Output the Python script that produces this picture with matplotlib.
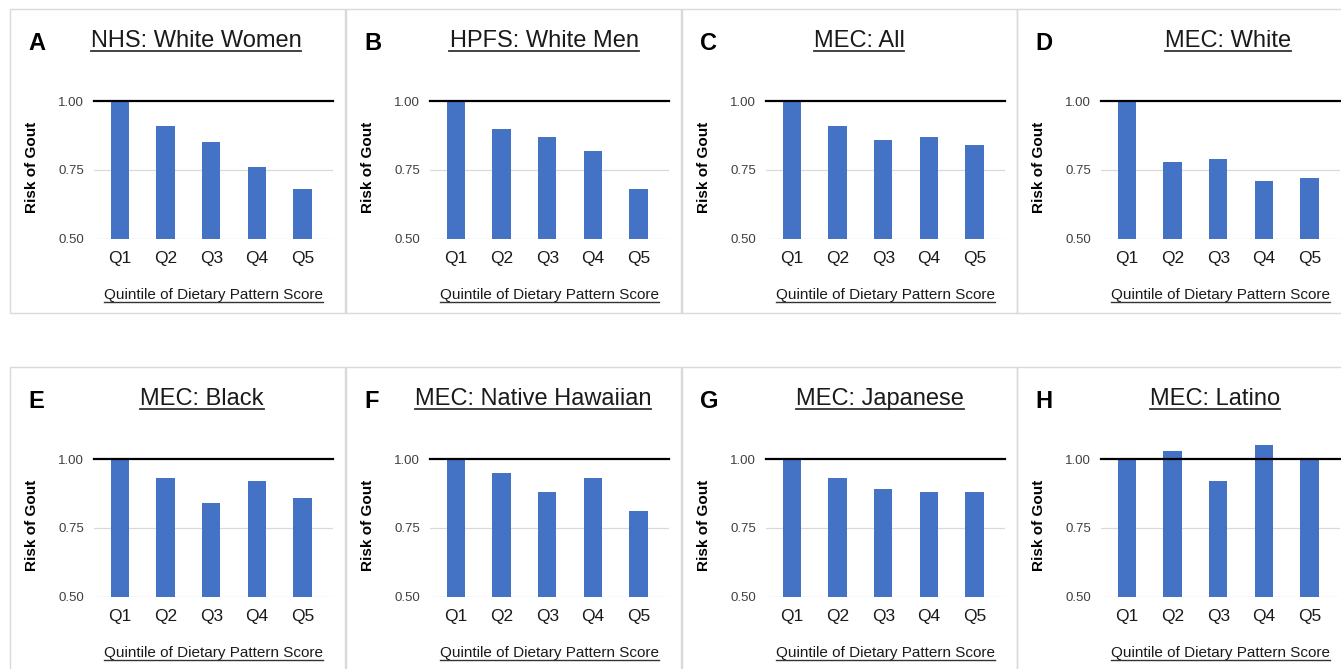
import matplotlib
matplotlib.use('Agg')
import matplotlib.pyplot as plt
from matplotlib.patches import Rectangle
from matplotlib.lines import Line2D
import numpy as np

plt.rcParams['font.family'] = ['Liberation Sans', 'DejaVu Sans']

# Data
quintiles = ['Q1', 'Q2', 'Q3', 'Q4', 'Q5']
panel_letters = ['A', 'B', 'C', 'D', 'E', 'F', 'G', 'H']
panel_titles = ['NHS: White Women', 'HPFS: White Men', 'MEC: All', 'MEC: White',
                'MEC: Black', 'MEC: Native Hawaiian', 'MEC: Japanese', 'MEC: Latino']
risk_a = [1.00, 0.91, 0.85, 0.76, 0.68]
risk_b = [1.00, 0.90, 0.87, 0.82, 0.68]
risk_c = [1.00, 0.91, 0.86, 0.87, 0.84]
risk_d = [1.00, 0.78, 0.79, 0.71, 0.72]
risk_e = [1.00, 0.93, 0.84, 0.92, 0.86]
risk_f = [1.00, 0.95, 0.88, 0.93, 0.81]
risk_g = [1.00, 0.93, 0.89, 0.88, 0.88]
risk_h = [1.00, 1.03, 0.92, 1.05, 1.00]
all_risks = [risk_a, risk_b, risk_c, risk_d, risk_e, risk_f, risk_g, risk_h]
yticks = [0.50, 0.75, 1.00]
ylabel = 'Risk of Gout'
xlabel = 'Quintile of Dietary Pattern Score'

# Layout (pixels)
W, H = 1341, 669
row_tops = [9, 367]
box_lefts = [10, 346, 682, 1017]
box_w = 335
box_h = [304, 320]
title_cx = [186, 198, 177, 211, 192, 187, 198, 198]
bar_color = '#4472C4'

fig = plt.figure(figsize=(W / 100, H / 100), dpi=100)
fig.patch.set_facecolor('white')


def fx(px):
    return px / W


def fy(py):
    return 1 - py / H


underlined = []  # (text, baseline_px, gap_px, lw)

for i, vals in enumerate(all_risks):
    row, col = divmod(i, 4)
    bx, by = box_lefts[col], row_tops[row]

    fig.add_artist(Rectangle((fx(bx), fy(by + box_h[row])), box_w / W, box_h[row] / H,
                             transform=fig.transFigure, fill=False,
                             edgecolor='#d9d9d9', lw=1.0))

    # axes: 1.00 at rel 92, 0.50 at rel 229.5, ylim top 1.06
    y_top = 92 - 0.06 * 275
    ax = fig.add_axes([fx(bx + 84), fy(by + 229.5), 239 / W, (229.5 - y_top) / H])
    x = np.arange(len(quintiles))
    ax.bar(x, vals, width=0.4, color=bar_color, zorder=2)
    ax.axhline(1.0, color='black', lw=1.6, zorder=3, clip_on=False)
    for yv in yticks[:2]:
        ax.axhline(yv, color='#d9d9d9', lw=0.9, zorder=1)
    ax.set_xlim(-0.57, 4.67)
    ax.set_ylim(0.5, 1.06)
    ax.set_yticks(yticks)
    ax.set_yticklabels([f'{v:.2f}' for v in yticks])
    ax.set_xticks(x)
    ax.set_xticklabels(quintiles)
    ax.tick_params(axis='y', length=0, pad=7, labelsize=9.5, labelcolor='#404040')
    ax.tick_params(axis='x', length=0, pad=9, labelsize=12.5, labelcolor='#1a1a1a')
    for s in ax.spines.values():
        s.set_visible(False)
    ax.patch.set_alpha(0)

    fig.text(fx(bx + 18), fy(by + 41), panel_letters[i], fontsize=17,
             fontweight='bold', ha='left', va='baseline')
    t = fig.text(fx(bx + title_cx[i]), fy(by + 38), panel_titles[i], fontsize=17,
                 ha='center', va='baseline', color='#1a1a1a')
    underlined.append((t, by + 38, 3.5, 1.3))
    fig.text(fx(bx + 22), fy(by + 158), ylabel, fontsize=11, fontweight='bold',
             rotation=90, ha='center', va='center')
    t = fig.text(fx(bx + 203.5), fy(by + 290), xlabel, fontsize=11,
                 ha='center', va='baseline', color='#1a1a1a')
    underlined.append((t, by + 290, 3.0, 1.0))

fig.canvas.draw()
renderer = fig.canvas.get_renderer()
for t, base, gap, lw in underlined:
    bb = t.get_window_extent(renderer)
    yy = fy(base + gap)
    fig.add_artist(Line2D([bb.x0 / W, bb.x1 / W], [yy, yy], transform=fig.transFigure,
                          color='#333333', lw=lw))

fig.savefig('out.png', dpi=100, facecolor='white')
